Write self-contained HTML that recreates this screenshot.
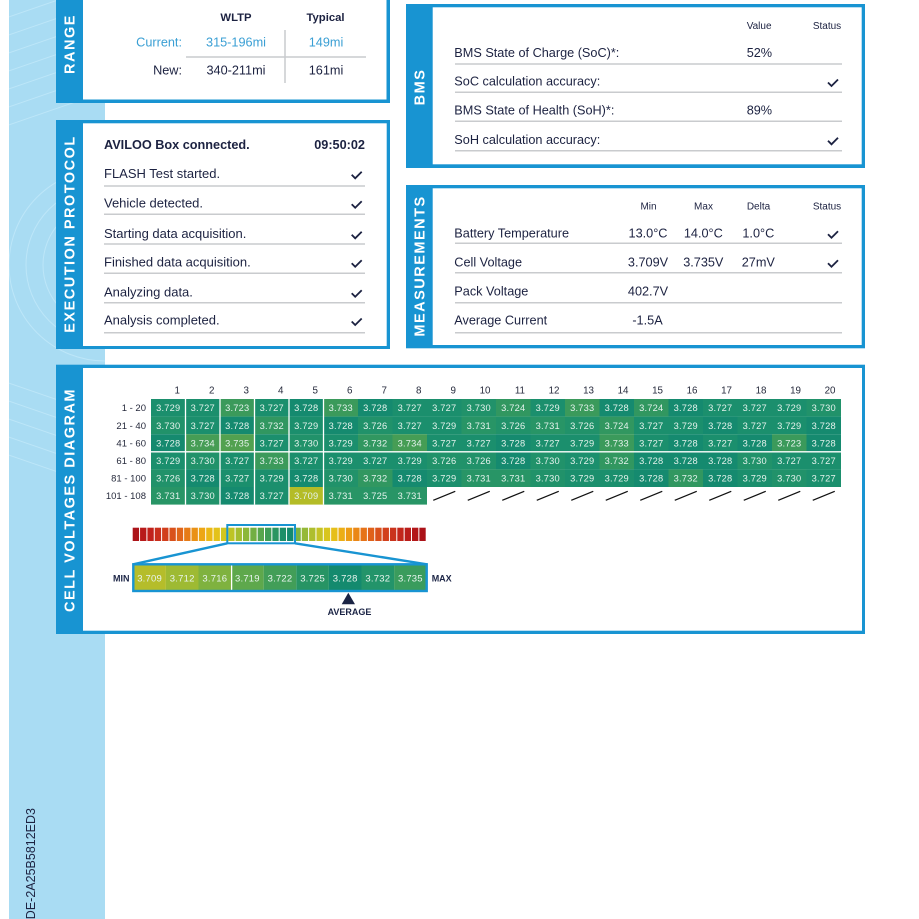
<!DOCTYPE html>
<html><head><meta charset="utf-8"><style>
html,body{margin:0;padding:0;background:#fff;}
svg{display:block;font-family:"Liberation Sans",Arial,sans-serif;}
.t{fill:#1c2241;}
.lab{fill:#fff;font-weight:bold;font-size:14.5px;letter-spacing:1.5px;}
.ln{stroke:#c9cbce;stroke-width:1.5;}
.ck{fill:none;stroke:#1c2241;stroke-width:1.8;stroke-linejoin:miter;}
.c0{fill:#158a6f}.c1{fill:#1b8f6d}.c2{fill:#21926a}.c3{fill:#289566}.c4{fill:#319760}.c5{fill:#3b9a5b}.c6{fill:#469d55}.c7{fill:#52a150}.c19{fill:#b4bc27}
.cells text{fill:#e4f2ec;font-size:9.3px;text-anchor:middle;letter-spacing:0.2px;}
</style></head><body>
<svg width="919" height="919" viewBox="0 0 919 919" xmlns="http://www.w3.org/2000/svg">
<defs><clipPath id="strip"><rect x="9" y="0" width="96" height="919"/></clipPath></defs>
<!-- left strip -->
<rect x="9" y="0" width="96" height="919" fill="#a9dcf3"/>
<g clip-path="url(#strip)" stroke="#bde6f8" stroke-width="1" fill="none">
<path d="M0,20 L110,-18 M0,38 L110,0 M0,56 L110,18 M0,74 L110,36 M0,92 L110,54 M0,110 L110,72 M0,128 L110,90"/>
<circle cx="105" cy="265" r="45"/><circle cx="105" cy="265" r="62"/><circle cx="105" cy="265" r="79"/><circle cx="105" cy="265" r="96"/>
<path d="M0,380 L110,418 M0,398 L110,436 M0,416 L110,454 M0,434 L110,472 M0,452 L110,490"/>
</g>
<text transform="translate(35,808) rotate(-90)" text-anchor="end" font-size="12.5" class="t">LDE-2A25B5812ED3</text>

<!-- RANGE panel -->
<rect x="56" y="-20" width="334" height="123" fill="#1894d2"/>
<rect x="83" y="-20" width="303.5" height="119.5" fill="#fff"/>
<text class="lab" transform="translate(74.5,44) rotate(-90)" text-anchor="middle">RANGE</text>
<g font-size="11.3" font-weight="bold" class="t" text-anchor="middle">
<text x="236" y="20.8" class="t">WLTP</text><text x="325.5" y="20.8" class="t">Typical</text></g>
<g font-size="12.7">
<text x="182" y="46.6" text-anchor="end" fill="#3a9fd4">Current:</text>
<text x="236" y="46.6" text-anchor="middle" fill="#3a9fd4">315-196mi</text>
<text x="326" y="46.6" text-anchor="middle" fill="#3a9fd4">149mi</text>
<text x="182" y="74.6" text-anchor="end" class="t">New:</text>
<text x="236" y="74.6" text-anchor="middle" class="t">340-211mi</text>
<text x="326" y="74.6" text-anchor="middle" class="t">161mi</text></g>
<line x1="186" y1="57" x2="366" y2="57" class="ln"/>
<line x1="285" y1="30" x2="285" y2="83" class="ln"/>

<!-- EXECUTION PROTOCOL -->
<rect x="56" y="120" width="334" height="229" fill="#1894d2"/>
<rect x="83" y="123.3" width="303.7" height="222.7" fill="#fff"/>
<text class="lab" transform="translate(74.5,234) rotate(-90)" text-anchor="middle">EXECUTION PROTOCOL</text>
<text x="104" y="148.9" font-size="12.7" font-weight="bold" class="t">AVILOO Box connected.</text>
<text x="365" y="148.9" font-size="12.7" font-weight="bold" class="t" text-anchor="end">09:50:02</text>
<g font-size="13" class="t">
<text x="104" y="178" class="t">FLASH Test started.</text>
<text x="104" y="207.4" class="t">Vehicle detected.</text>
<text x="104" y="238" class="t">Starting data acquisition.</text>
<text x="104" y="266.4" class="t">Finished data acquisition.</text>
<text x="104" y="296.4" class="t">Analyzing data.</text>
<text x="104" y="324.7" class="t">Analysis completed.</text></g>
<g class="ln"><line x1="104" y1="186" x2="365" y2="186"/><line x1="104" y1="214.3" x2="365" y2="214.3"/><line x1="104" y1="244" x2="365" y2="244"/><line x1="104" y1="273.3" x2="365" y2="273.3"/><line x1="104" y1="302.7" x2="365" y2="302.7"/><line x1="104" y1="332.7" x2="365" y2="332.7"/></g>
<g class="ck">
<path d="M351.7,174.8 L355.2,178.3 L361.7,171.8"/>
<path d="M351.7,204.2 L355.2,207.7 L361.7,201.2"/>
<path d="M351.7,234.8 L355.2,238.3 L361.7,231.8"/>
<path d="M351.7,263.2 L355.2,266.7 L361.7,260.2"/>
<path d="M351.7,293.2 L355.2,296.7 L361.7,290.2"/>
<path d="M351.7,321.5 L355.2,325 L361.7,318.5"/></g>

<!-- BMS -->
<rect x="406" y="4" width="459" height="164" fill="#1894d2"/>
<rect x="432.7" y="7.3" width="429" height="157" fill="#fff"/>
<text class="lab" transform="translate(424.5,87) rotate(-90)" text-anchor="middle">BMS</text>
<g font-size="10" class="t">
<text x="746.7" y="28.9" class="t">Value</text>
<text x="827" y="28.9" text-anchor="middle" class="t">Status</text></g>
<g font-size="12.7" class="t">
<text x="454.3" y="56.9" class="t">BMS State of Charge (SoC)*:</text>
<text x="746.7" y="56.9" class="t">52%</text>
<text x="454.3" y="85.6" class="t">SoC calculation accuracy:</text>
<text x="454.3" y="114.6" class="t">BMS State of Health (SoH)*:</text>
<text x="746.7" y="114.6" class="t">89%</text>
<text x="454.3" y="143.9" class="t">SoH calculation accuracy:</text></g>
<g class="ln"><line x1="455" y1="64" x2="842" y2="64"/><line x1="455" y1="92.3" x2="842" y2="92.3"/><line x1="455" y1="121.3" x2="842" y2="121.3"/><line x1="455" y1="150.7" x2="842" y2="150.7"/></g>
<g class="ck">
<path d="M828,82.5 L831.5,86 L838,79.5"/>
<path d="M828,140.8 L831.5,144.3 L838,137.8"/></g>

<!-- MEASUREMENTS -->
<rect x="406" y="185" width="459" height="163.3" fill="#1894d2"/>
<rect x="432.7" y="188.3" width="429" height="156.7" fill="#fff"/>
<text class="lab" transform="translate(424.5,266) rotate(-90)" text-anchor="middle">MEASUREMENTS</text>
<g font-size="10" class="t" text-anchor="middle">
<text x="648.5" y="209.3" class="t">Min</text><text x="703.5" y="209.3" class="t">Max</text><text x="758.5" y="209.3" class="t">Delta</text><text x="827" y="209.3" class="t">Status</text></g>
<g font-size="12.7" class="t">
<text x="454.3" y="237.3" class="t">Battery Temperature</text>
<text x="454.3" y="266.3" class="t">Cell Voltage</text>
<text x="454.3" y="295.6" class="t">Pack Voltage</text>
<text x="454.3" y="324.6" class="t">Average Current</text></g>
<g font-size="12.7" class="t" text-anchor="middle">
<text x="648" y="237.3" class="t">13.0°C</text><text x="703.3" y="237.3" class="t">14.0°C</text><text x="758.3" y="237.3" class="t">1.0°C</text>
<text x="648" y="266.3" class="t">3.709V</text><text x="703.3" y="266.3" class="t">3.735V</text><text x="758.3" y="266.3" class="t">27mV</text>
<text x="648" y="295.6" class="t">402.7V</text>
<text x="647.5" y="324.6" class="t">-1.5A</text></g>
<g class="ln"><line x1="455" y1="243.3" x2="842" y2="243.3"/><line x1="455" y1="272.7" x2="842" y2="272.7"/><line x1="455" y1="302.7" x2="842" y2="302.7"/><line x1="455" y1="332.7" x2="842" y2="332.7"/></g>
<g class="ck">
<path d="M828,234.2 L831.5,237.7 L838,231.2"/>
<path d="M828,263.2 L831.5,266.7 L838,260.2"/></g>

<!-- CELL VOLTAGES DIAGRAM -->
<rect x="56" y="364.7" width="809" height="269.3" fill="#1894d2"/>
<rect x="83" y="368" width="779" height="262.7" fill="#fff"/>
<text class="lab" transform="translate(74.5,500) rotate(-90)" text-anchor="middle">CELL VOLTAGES DIAGRAM</text>
<g font-size="9.8" fill="#262a3c" text-anchor="end">
<text x="180" y="393.5">1</text><text x="214.5" y="393.5">2</text><text x="249" y="393.5">3</text><text x="283.5" y="393.5">4</text><text x="318" y="393.5">5</text><text x="352.5" y="393.5">6</text><text x="387" y="393.5">7</text><text x="421.5" y="393.5">8</text><text x="456" y="393.5">9</text><text x="490.5" y="393.5">10</text><text x="525" y="393.5">11</text><text x="559.5" y="393.5">12</text><text x="594" y="393.5">13</text><text x="628.5" y="393.5">14</text><text x="663" y="393.5">15</text><text x="697.5" y="393.5">16</text><text x="732" y="393.5">17</text><text x="766.5" y="393.5">18</text><text x="801" y="393.5">19</text><text x="835.5" y="393.5">20</text></g>
<g font-size="9.5" fill="#262a3c" text-anchor="end">
<text x="146" y="411.2">1 - 20</text><text x="146" y="428.8">21 - 40</text><text x="146" y="446.4">41 - 60</text><text x="146" y="464">61 - 80</text><text x="146" y="481.6">81 - 100</text><text x="146" y="499.2">101 - 108</text></g>
<g class="cells">
<g transform="translate(0,399)">
<rect x="151" width="34.5" height="17.6" class="c1"/><rect x="185.5" width="34.5" height="17.6" class="c1"/><rect x="220" width="34.5" height="17.6" class="c5"/><rect x="254.5" width="34.5" height="17.6" class="c1"/><rect x="289" width="34.5" height="17.6" class="c0"/><rect x="323.5" width="34.5" height="17.6" class="c5"/><rect x="358" width="34.5" height="17.6" class="c0"/><rect x="392.5" width="34.5" height="17.6" class="c1"/><rect x="427" width="34.5" height="17.6" class="c1"/><rect x="461.5" width="34.5" height="17.6" class="c2"/><rect x="496" width="34.5" height="17.6" class="c4"/><rect x="530.5" width="34.5" height="17.6" class="c1"/><rect x="565" width="34.5" height="17.6" class="c5"/><rect x="599.5" width="34.5" height="17.6" class="c0"/><rect x="634" width="34.5" height="17.6" class="c4"/><rect x="668.5" width="34.5" height="17.6" class="c0"/><rect x="703" width="34.5" height="17.6" class="c1"/><rect x="737.5" width="34.5" height="17.6" class="c1"/><rect x="772" width="34.5" height="17.6" class="c1"/><rect x="806.5" width="34.5" height="17.6" class="c2"/>
<text x="168.25" y="12.2">3.729</text><text x="202.75" y="12.2">3.727</text><text x="237.25" y="12.2">3.723</text><text x="271.75" y="12.2">3.727</text><text x="306.25" y="12.2">3.728</text><text x="340.75" y="12.2">3.733</text><text x="375.25" y="12.2">3.728</text><text x="409.75" y="12.2">3.727</text><text x="444.25" y="12.2">3.727</text><text x="478.75" y="12.2">3.730</text><text x="513.25" y="12.2">3.724</text><text x="547.75" y="12.2">3.729</text><text x="582.25" y="12.2">3.733</text><text x="616.75" y="12.2">3.728</text><text x="651.25" y="12.2">3.724</text><text x="685.75" y="12.2">3.728</text><text x="720.25" y="12.2">3.727</text><text x="754.75" y="12.2">3.727</text><text x="789.25" y="12.2">3.729</text><text x="823.75" y="12.2">3.730</text>
</g>
<g transform="translate(0,416.6)">
<rect x="151" width="34.5" height="17.6" class="c2"/><rect x="185.5" width="34.5" height="17.6" class="c1"/><rect x="220" width="34.5" height="17.6" class="c0"/><rect x="254.5" width="34.5" height="17.6" class="c4"/><rect x="289" width="34.5" height="17.6" class="c1"/><rect x="323.5" width="34.5" height="17.6" class="c0"/><rect x="358" width="34.5" height="17.6" class="c2"/><rect x="392.5" width="34.5" height="17.6" class="c1"/><rect x="427" width="34.5" height="17.6" class="c1"/><rect x="461.5" width="34.5" height="17.6" class="c3"/><rect x="496" width="34.5" height="17.6" class="c2"/><rect x="530.5" width="34.5" height="17.6" class="c3"/><rect x="565" width="34.5" height="17.6" class="c2"/><rect x="599.5" width="34.5" height="17.6" class="c4"/><rect x="634" width="34.5" height="17.6" class="c1"/><rect x="668.5" width="34.5" height="17.6" class="c1"/><rect x="703" width="34.5" height="17.6" class="c0"/><rect x="737.5" width="34.5" height="17.6" class="c1"/><rect x="772" width="34.5" height="17.6" class="c1"/><rect x="806.5" width="34.5" height="17.6" class="c0"/>
<text x="168.25" y="12.2">3.730</text><text x="202.75" y="12.2">3.727</text><text x="237.25" y="12.2">3.728</text><text x="271.75" y="12.2">3.732</text><text x="306.25" y="12.2">3.729</text><text x="340.75" y="12.2">3.728</text><text x="375.25" y="12.2">3.726</text><text x="409.75" y="12.2">3.727</text><text x="444.25" y="12.2">3.729</text><text x="478.75" y="12.2">3.731</text><text x="513.25" y="12.2">3.726</text><text x="547.75" y="12.2">3.731</text><text x="582.25" y="12.2">3.726</text><text x="616.75" y="12.2">3.724</text><text x="651.25" y="12.2">3.727</text><text x="685.75" y="12.2">3.729</text><text x="720.25" y="12.2">3.728</text><text x="754.75" y="12.2">3.727</text><text x="789.25" y="12.2">3.729</text><text x="823.75" y="12.2">3.728</text>
</g>
<g transform="translate(0,434.2)">
<rect x="151" width="34.5" height="17.6" class="c0"/><rect x="185.5" width="34.5" height="17.6" class="c6"/><rect x="220" width="34.5" height="17.6" class="c7"/><rect x="254.5" width="34.5" height="17.6" class="c1"/><rect x="289" width="34.5" height="17.6" class="c2"/><rect x="323.5" width="34.5" height="17.6" class="c1"/><rect x="358" width="34.5" height="17.6" class="c4"/><rect x="392.5" width="34.5" height="17.6" class="c6"/><rect x="427" width="34.5" height="17.6" class="c1"/><rect x="461.5" width="34.5" height="17.6" class="c1"/><rect x="496" width="34.5" height="17.6" class="c0"/><rect x="530.5" width="34.5" height="17.6" class="c1"/><rect x="565" width="34.5" height="17.6" class="c1"/><rect x="599.5" width="34.5" height="17.6" class="c5"/><rect x="634" width="34.5" height="17.6" class="c1"/><rect x="668.5" width="34.5" height="17.6" class="c0"/><rect x="703" width="34.5" height="17.6" class="c1"/><rect x="737.5" width="34.5" height="17.6" class="c0"/><rect x="772" width="34.5" height="17.6" class="c5"/><rect x="806.5" width="34.5" height="17.6" class="c0"/>
<text x="168.25" y="12.2">3.728</text><text x="202.75" y="12.2">3.734</text><text x="237.25" y="12.2">3.735</text><text x="271.75" y="12.2">3.727</text><text x="306.25" y="12.2">3.730</text><text x="340.75" y="12.2">3.729</text><text x="375.25" y="12.2">3.732</text><text x="409.75" y="12.2">3.734</text><text x="444.25" y="12.2">3.727</text><text x="478.75" y="12.2">3.727</text><text x="513.25" y="12.2">3.728</text><text x="547.75" y="12.2">3.727</text><text x="582.25" y="12.2">3.729</text><text x="616.75" y="12.2">3.733</text><text x="651.25" y="12.2">3.727</text><text x="685.75" y="12.2">3.728</text><text x="720.25" y="12.2">3.727</text><text x="754.75" y="12.2">3.728</text><text x="789.25" y="12.2">3.723</text><text x="823.75" y="12.2">3.728</text>
</g>
<g transform="translate(0,451.8)">
<rect x="151" width="34.5" height="17.6" class="c1"/><rect x="185.5" width="34.5" height="17.6" class="c2"/><rect x="220" width="34.5" height="17.6" class="c1"/><rect x="254.5" width="34.5" height="17.6" class="c5"/><rect x="289" width="34.5" height="17.6" class="c1"/><rect x="323.5" width="34.5" height="17.6" class="c1"/><rect x="358" width="34.5" height="17.6" class="c1"/><rect x="392.5" width="34.5" height="17.6" class="c1"/><rect x="427" width="34.5" height="17.6" class="c2"/><rect x="461.5" width="34.5" height="17.6" class="c2"/><rect x="496" width="34.5" height="17.6" class="c0"/><rect x="530.5" width="34.5" height="17.6" class="c2"/><rect x="565" width="34.5" height="17.6" class="c1"/><rect x="599.5" width="34.5" height="17.6" class="c4"/><rect x="634" width="34.5" height="17.6" class="c0"/><rect x="668.5" width="34.5" height="17.6" class="c0"/><rect x="703" width="34.5" height="17.6" class="c0"/><rect x="737.5" width="34.5" height="17.6" class="c2"/><rect x="772" width="34.5" height="17.6" class="c1"/><rect x="806.5" width="34.5" height="17.6" class="c1"/>
<text x="168.25" y="12.2">3.729</text><text x="202.75" y="12.2">3.730</text><text x="237.25" y="12.2">3.727</text><text x="271.75" y="12.2">3.733</text><text x="306.25" y="12.2">3.727</text><text x="340.75" y="12.2">3.729</text><text x="375.25" y="12.2">3.727</text><text x="409.75" y="12.2">3.729</text><text x="444.25" y="12.2">3.726</text><text x="478.75" y="12.2">3.726</text><text x="513.25" y="12.2">3.728</text><text x="547.75" y="12.2">3.730</text><text x="582.25" y="12.2">3.729</text><text x="616.75" y="12.2">3.732</text><text x="651.25" y="12.2">3.728</text><text x="685.75" y="12.2">3.728</text><text x="720.25" y="12.2">3.728</text><text x="754.75" y="12.2">3.730</text><text x="789.25" y="12.2">3.727</text><text x="823.75" y="12.2">3.727</text>
</g>
<g transform="translate(0,469.4)">
<rect x="151" width="34.5" height="17.6" class="c2"/><rect x="185.5" width="34.5" height="17.6" class="c0"/><rect x="220" width="34.5" height="17.6" class="c1"/><rect x="254.5" width="34.5" height="17.6" class="c1"/><rect x="289" width="34.5" height="17.6" class="c0"/><rect x="323.5" width="34.5" height="17.6" class="c2"/><rect x="358" width="34.5" height="17.6" class="c4"/><rect x="392.5" width="34.5" height="17.6" class="c0"/><rect x="427" width="34.5" height="17.6" class="c1"/><rect x="461.5" width="34.5" height="17.6" class="c3"/><rect x="496" width="34.5" height="17.6" class="c3"/><rect x="530.5" width="34.5" height="17.6" class="c2"/><rect x="565" width="34.5" height="17.6" class="c1"/><rect x="599.5" width="34.5" height="17.6" class="c1"/><rect x="634" width="34.5" height="17.6" class="c0"/><rect x="668.5" width="34.5" height="17.6" class="c4"/><rect x="703" width="34.5" height="17.6" class="c0"/><rect x="737.5" width="34.5" height="17.6" class="c1"/><rect x="772" width="34.5" height="17.6" class="c2"/><rect x="806.5" width="34.5" height="17.6" class="c1"/>
<text x="168.25" y="12.2">3.726</text><text x="202.75" y="12.2">3.728</text><text x="237.25" y="12.2">3.727</text><text x="271.75" y="12.2">3.729</text><text x="306.25" y="12.2">3.728</text><text x="340.75" y="12.2">3.730</text><text x="375.25" y="12.2">3.732</text><text x="409.75" y="12.2">3.728</text><text x="444.25" y="12.2">3.729</text><text x="478.75" y="12.2">3.731</text><text x="513.25" y="12.2">3.731</text><text x="547.75" y="12.2">3.730</text><text x="582.25" y="12.2">3.729</text><text x="616.75" y="12.2">3.729</text><text x="651.25" y="12.2">3.728</text><text x="685.75" y="12.2">3.732</text><text x="720.25" y="12.2">3.728</text><text x="754.75" y="12.2">3.729</text><text x="789.25" y="12.2">3.730</text><text x="823.75" y="12.2">3.727</text>
</g>
<g transform="translate(0,487)">
<rect x="151" width="34.5" height="17.6" class="c3"/><rect x="185.5" width="34.5" height="17.6" class="c2"/><rect x="220" width="34.5" height="17.6" class="c0"/><rect x="254.5" width="34.5" height="17.6" class="c1"/><rect x="289" width="34.5" height="17.6" class="c19"/><rect x="323.5" width="34.5" height="17.6" class="c3"/><rect x="358" width="34.5" height="17.6" class="c3"/><rect x="392.5" width="34.5" height="17.6" class="c3"/>
<text x="168.25" y="12.2">3.731</text><text x="202.75" y="12.2">3.730</text><text x="237.25" y="12.2">3.728</text><text x="271.75" y="12.2">3.727</text><text x="306.25" y="12.2">3.709</text><text x="340.75" y="12.2">3.731</text><text x="375.25" y="12.2">3.725</text><text x="409.75" y="12.2">3.731</text>
</g>
</g>
<g stroke="#fff" stroke-width="1.3">
<line x1="185.5" y1="399" x2="185.5" y2="504.6"/><line x1="220" y1="399" x2="220" y2="504.6"/><line x1="254.5" y1="399" x2="254.5" y2="504.6"/><line x1="289" y1="399" x2="289" y2="504.6"/><line x1="323.5" y1="399" x2="323.5" y2="504.6"/>
<line x1="151" y1="451.8" x2="841" y2="451.8"/></g>
<g stroke="#111" stroke-width="1.3">
<line x1="433.25" y1="500.3" x2="455.25" y2="491.3"/><line x1="467.75" y1="500.3" x2="489.75" y2="491.3"/><line x1="502.25" y1="500.3" x2="524.25" y2="491.3"/><line x1="536.75" y1="500.3" x2="558.75" y2="491.3"/><line x1="571.25" y1="500.3" x2="593.25" y2="491.3"/><line x1="605.75" y1="500.3" x2="627.75" y2="491.3"/><line x1="640.25" y1="500.3" x2="662.25" y2="491.3"/><line x1="674.75" y1="500.3" x2="696.75" y2="491.3"/><line x1="709.25" y1="500.3" x2="731.25" y2="491.3"/><line x1="743.75" y1="500.3" x2="765.75" y2="491.3"/><line x1="778.25" y1="500.3" x2="800.25" y2="491.3"/><line x1="812.75" y1="500.3" x2="834.75" y2="491.3"/></g>

<!-- color bar -->
<g transform="translate(0,527.7)">
<rect x="132.7" width="6.35" height="13.3" fill="#ac1419"/><rect x="140.05" width="6.35" height="13.3" fill="#b81a1a"/><rect x="147.4" width="6.35" height="13.3" fill="#c1211b"/><rect x="154.75" width="6.35" height="13.3" fill="#c92e1c"/><rect x="162.1" width="6.35" height="13.3" fill="#d13e1c"/><rect x="169.45" width="6.35" height="13.3" fill="#d9511b"/><rect x="176.8" width="6.35" height="13.3" fill="#e0661a"/><rect x="184.15" width="6.35" height="13.3" fill="#e67b17"/><rect x="191.5" width="6.35" height="13.3" fill="#ea9115"/><rect x="198.85" width="6.35" height="13.3" fill="#eda615"/><rect x="206.2" width="6.35" height="13.3" fill="#ebb816"/><rect x="213.55" width="6.35" height="13.3" fill="#e3c21a"/><rect x="220.9" width="6.35" height="13.3" fill="#d3c61f"/><rect x="228.25" width="6.35" height="13.3" fill="#bec425"/><rect x="235.6" width="6.35" height="13.3" fill="#a5bd2f"/><rect x="242.95" width="6.35" height="13.3" fill="#8cb739"/><rect x="250.3" width="6.35" height="13.3" fill="#72af43"/><rect x="257.65" width="6.35" height="13.3" fill="#58a64d"/><rect x="265" width="6.35" height="13.3" fill="#409d57"/><rect x="272.35" width="6.35" height="13.3" fill="#2b9561"/><rect x="279.7" width="6.35" height="13.3" fill="#1c8f69"/><rect x="287.05" width="6.35" height="13.3" fill="#138a6e"/><rect x="294.4" width="6.35" height="13.3" fill="#7cb33f"/><rect x="301.75" width="6.35" height="13.3" fill="#95b937"/><rect x="309.1" width="6.35" height="13.3" fill="#aebe2e"/><rect x="316.45" width="6.35" height="13.3" fill="#c5c325"/><rect x="323.8" width="6.35" height="13.3" fill="#d8c51e"/><rect x="331.15" width="6.35" height="13.3" fill="#e6bf19"/><rect x="338.5" width="6.35" height="13.3" fill="#ecae16"/><rect x="345.85" width="6.35" height="13.3" fill="#ed9c15"/><rect x="353.2" width="6.35" height="13.3" fill="#ea8716"/><rect x="360.55" width="6.35" height="13.3" fill="#e67318"/><rect x="367.9" width="6.35" height="13.3" fill="#e0611a"/><rect x="375.25" width="6.35" height="13.3" fill="#d9501b"/><rect x="382.6" width="6.35" height="13.3" fill="#d2401c"/><rect x="389.95" width="6.35" height="13.3" fill="#ca331c"/><rect x="397.3" width="6.35" height="13.3" fill="#c2261b"/><rect x="404.65" width="6.35" height="13.3" fill="#ba1d1a"/><rect x="412" width="6.35" height="13.3" fill="#b31719"/><rect x="419.35" width="6.35" height="13.3" fill="#ab1218"/>
</g>
<rect x="227.3" y="525" width="67.7" height="18.3" fill="none" stroke="#1894d2" stroke-width="2"/>
<g stroke="#1894d2" stroke-width="2.4"><line x1="227.3" y1="543.3" x2="133.3" y2="564.3"/><line x1="295" y1="543.3" x2="426.7" y2="564.3"/></g>
<g transform="translate(0,564.3)">
<rect x="133.3" width="32.6" height="26.7" fill="#b5bd2a"/><rect x="165.9" width="32.6" height="26.7" fill="#9eba33"/><rect x="198.5" width="32.6" height="26.7" fill="#7fb23f"/><rect x="231.1" width="32.6" height="26.7" fill="#5ea84c"/><rect x="263.7" width="32.6" height="26.7" fill="#429e58"/><rect x="296.3" width="32.6" height="26.7" fill="#279464"/><rect x="328.9" width="32.6" height="26.7" fill="#148a6e"/><rect x="361.5" width="32.6" height="26.7" fill="#23946a"/><rect x="394.1" width="32.6" height="26.7" fill="#3a9c5d"/>
<line x1="231.6" y1="0" x2="231.6" y2="26.7" stroke="#fff" stroke-width="1.3"/>
<g fill="#e8f4ee" font-size="9.5" text-anchor="middle" letter-spacing="0.2">
<text x="149.6" y="17.1">3.709</text><text x="182.2" y="17.1">3.712</text><text x="214.8" y="17.1">3.716</text><text x="247.4" y="17.1">3.719</text><text x="280" y="17.1">3.722</text><text x="312.6" y="17.1">3.725</text><text x="345.2" y="17.1">3.728</text><text x="377.8" y="17.1">3.732</text><text x="410.4" y="17.1">3.735</text></g>
</g>
<rect x="133.3" y="564.3" width="293.4" height="26.7" fill="none" stroke="#1894d2" stroke-width="2.4"/>
<g font-size="9" font-weight="bold" fill="#1b2445">
<text x="129.5" y="581.3" text-anchor="end">MIN</text>
<text x="431.7" y="581.3">MAX</text>
<text x="349.5" y="614.8" text-anchor="middle">AVERAGE</text></g>
<polygon points="341.7,604.3 355,604.3 348.3,592.7" fill="#1b2445"/>
</svg>
</body></html>
